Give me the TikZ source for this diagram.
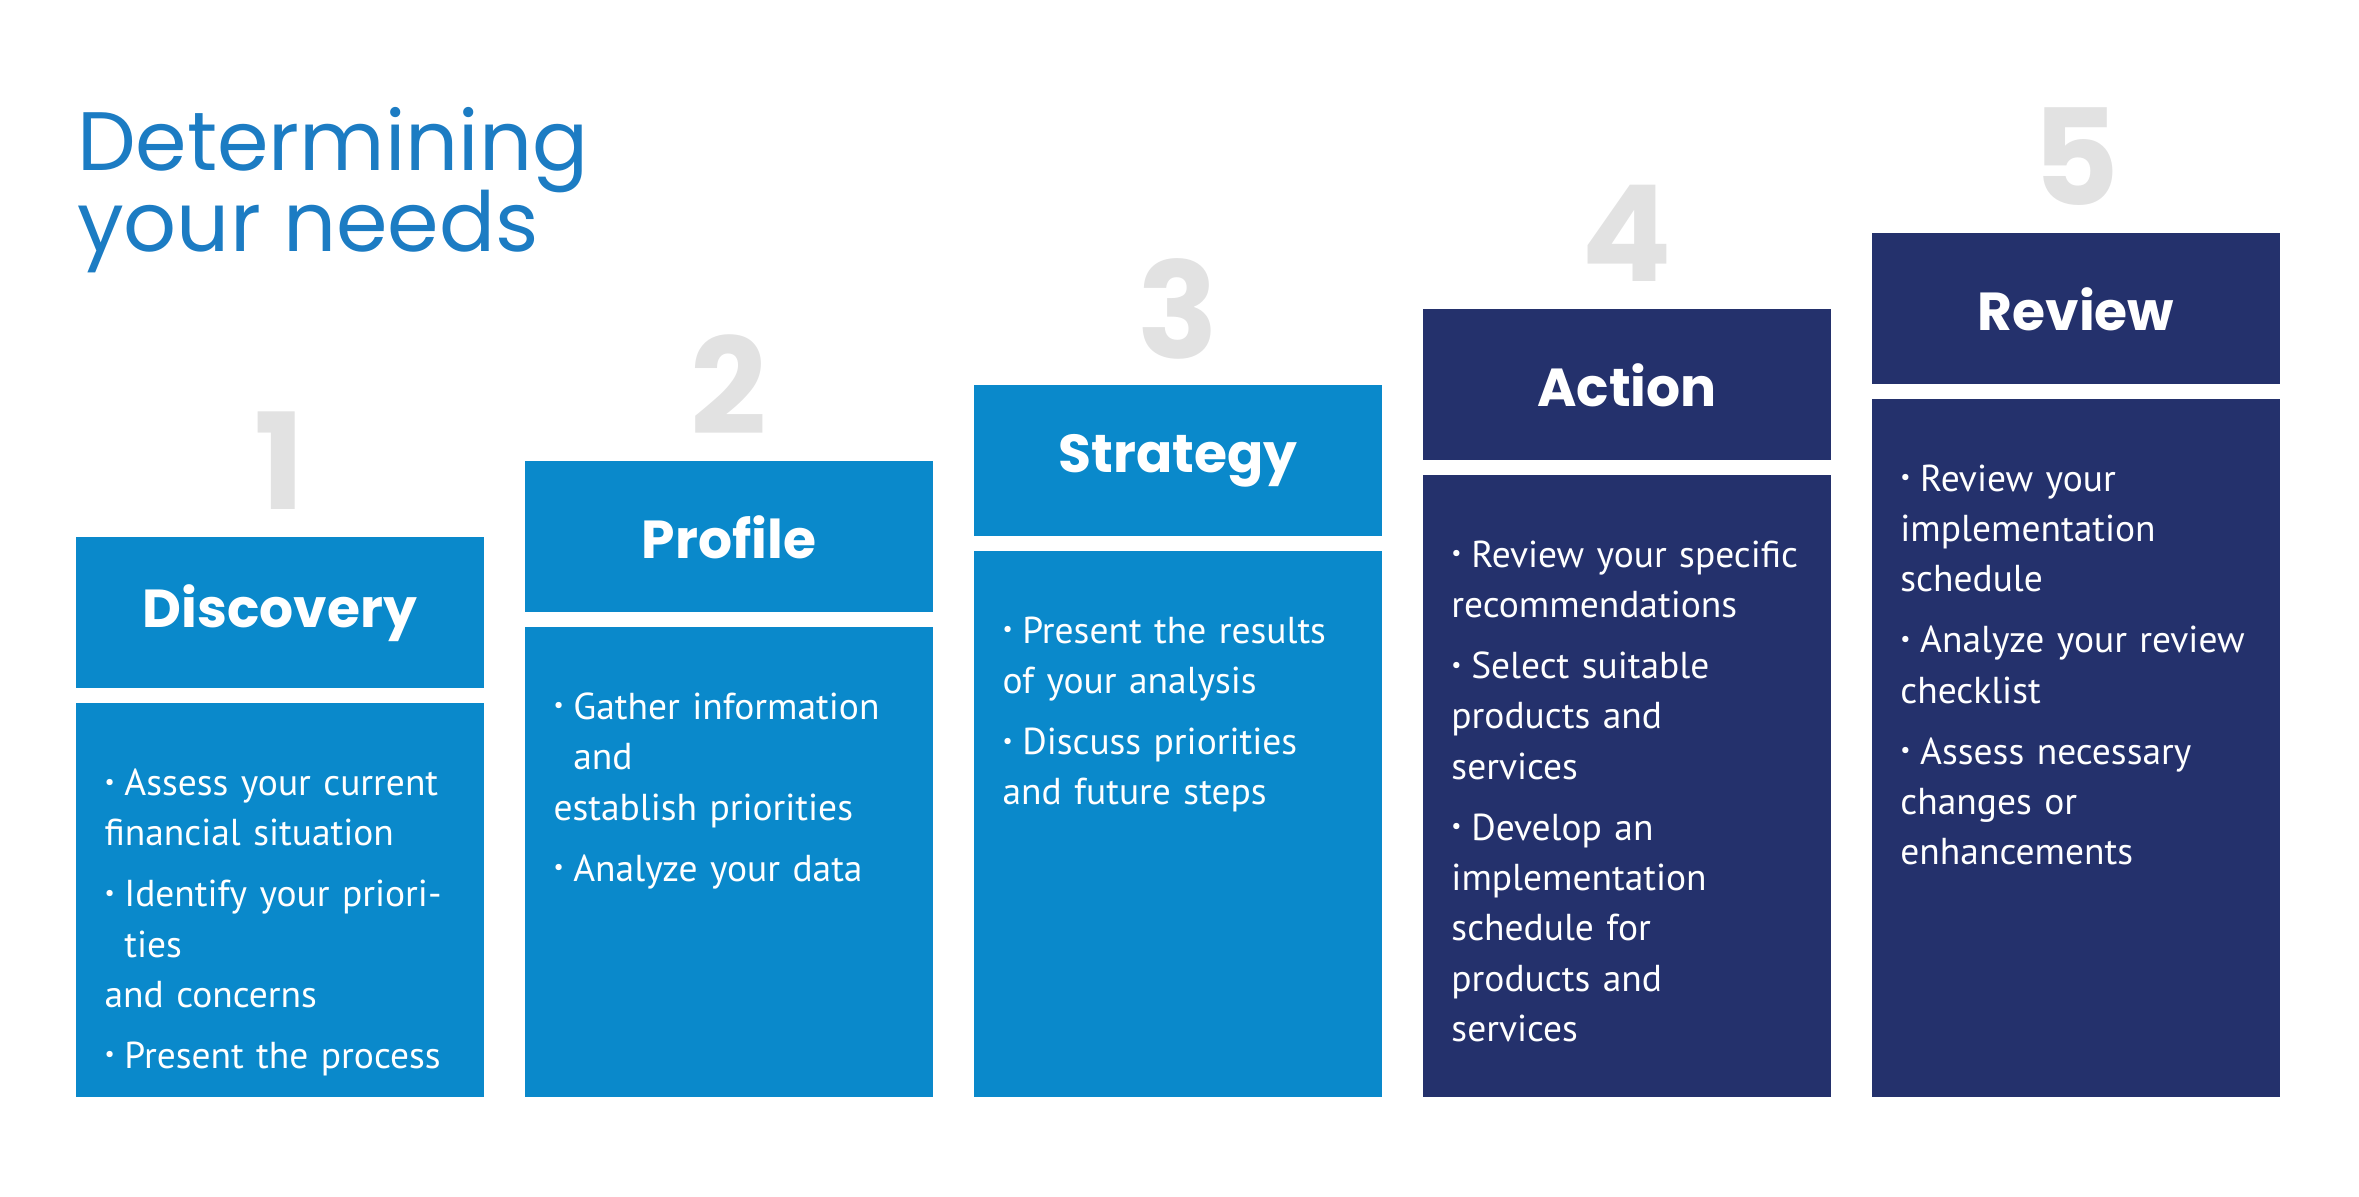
\documentclass[tikz,border=0pt]{standalone}
\usepackage{fontspec}
\setmainfont{PT Sans}
\newfontfamily\headfont{Poppins}
\usepackage{xcolor}
\definecolor{stepblue}{HTML}{0A89CB}
\definecolor{stepnavy}{HTML}{24316C}
\definecolor{titleblue}{HTML}{1C7CC3}
\definecolor{numgray}{HTML}{E2E2E2}

% bullet line with hanging indent
\newcommand\pitem[1]{\par\vspace{0.07cm}\hangindent=0.13cm\hangafter=1\noindent\makebox[0.13cm][l]{\raisebox{0.35ex}{\scalebox{0.6}{\textbullet}}}#1}

\begin{document}
\begin{tikzpicture}[x=0.01cm, y=-0.01cm]

% Define styles
\tikzstyle{headbox} = [inner sep=0, minimum width=2.68cm, minimum height=0.99cm, text=white, font=\headfont\bfseries\fontsize{10}{12}\selectfont]
\tikzstyle{bodybox} = [inner sep=0]
\tikzstyle{bodytext} = [anchor=north west, inner sep=0, text=white, text width=2.35cm, align=left, font=\fontsize{7}{9.4}\selectfont]
\tikzstyle{stepnum} = [text=numgray, font=\headfont\bfseries\fontsize{25}{25}\selectfont]
\tikzstyle{title} = [anchor=base west, inner sep=0, text=titleblue, font=\headfont\fontsize{15.5}{16}\selectfont]

\useasboundingbox (0,0) rectangle (1550,786);

% Title
\node[title] (title1) at (50,112) {Determining};
\node[title] (title2) at (50,165) {your needs};

% Step boxes
\foreach \i/\name/\col in {1/Discovery/stepblue, 2/Profile/stepblue, 3/Strategy/stepblue, 4/Action/stepnavy, 5/Review/stepnavy} {
  \pgfmathsetmacro{\xl}{50+295*(\i-1)}
  \pgfmathsetmacro{\yt}{353-50*(\i-1)}
  \fill[\col] (\xl,\yt) rectangle ++(268,99);
  \fill[\col] (\xl,\yt+109) rectangle (\xl+268,721);
  \node[headbox] (head\i) at (\xl+134,\yt+50) {\name};
  \node[stepnum] (num\i) at (\xl+134,\yt-50) {\i};
}

% Bullet lists
\node[bodytext] (text1) at (68,482) {\pitem{Assess your current\\financial situation}\pitem{Identify your priorities\\and concerns}\pitem{Present the process}};
\node[bodytext] (text2) at (363,432) {\pitem{Gather information and\\establish priorities}\pitem{Analyze your data}};
\node[bodytext] (text3) at (658,382) {\pitem{Present the results\\of your analysis}\pitem{Discuss priorities\\and future steps}};
\node[bodytext] (text4) at (953,332) {\pitem{Review your specific\\recommendations}\pitem{Select suitable\\products and\\services}\pitem{Develop an\\implementation\\schedule for\\products and\\services}};
\node[bodytext] (text5) at (1248,282) {\pitem{Review your\\implementation\\schedule}\pitem{Analyze your review\\checklist}\pitem{Assess necessary\\changes or\\enhancements}};

\end{tikzpicture}
\end{document}
